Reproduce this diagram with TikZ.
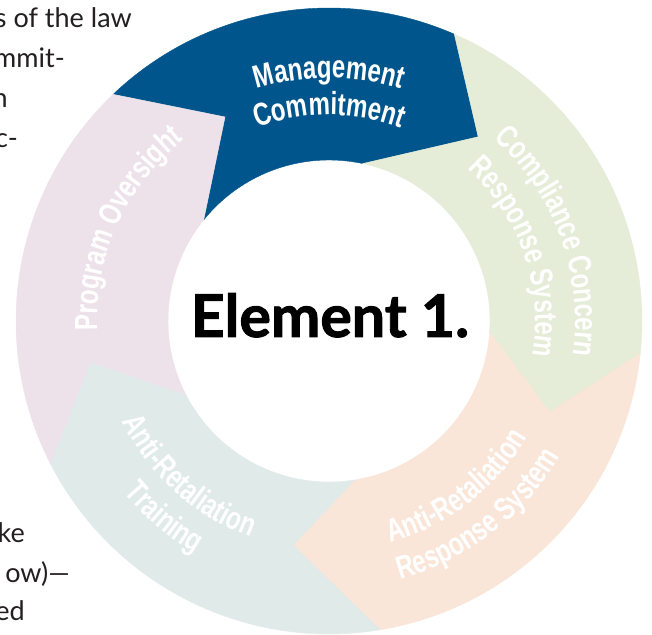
\documentclass[tikz,border=0pt]{standalone}
\usepackage{fontspec}
\setmainfont{Lato}
\newfontfamily\labfont[FakeStretch=0.75]{Liberation Sans}
\newfontfamily\elemfont[BoldFeatures={FakeBold=1.6}]{Lato}
\usetikzlibrary{decorations.text}
\definecolor{segblue}{HTML}{00568C}
\definecolor{seggreen}{HTML}{E5ECD7}
\definecolor{segpeach}{HTML}{FAE6D9}
\definecolor{seggray}{HTML}{E0EAE9}
\definecolor{segpink}{HTML}{EDE2EA}
\definecolor{bodytext}{HTML}{231F20}
\tikzset{
  seg/.style={fill=#1, draw=#1, line width=0.4pt, line join=miter},
  bodyline/.style={anchor=base east, inner sep=0pt, text=bodytext, font=\fontsize{27}{27}\selectfont},
  arclabel/.style={decorate, decoration={text along path, text align=center, text color=white, text={|\labfont\bfseries\fontsize{32}{32}\selectfont|#1}}}
}
\begin{document}
\begin{tikzpicture}[x=1pt,y=1pt]
\useasboundingbox (0,0) rectangle (652,634);
\clip (0,0) rectangle (652,634);
\coordinate (C) at (329,313);
\begin{scope}[shift={(C)}]
% Management Commitment (B5 -> B1)
\path[seg=segblue] (133.6:313) arc[start angle=133.6, end angle=66.4, radius=313]
  -- (51.0:237) -- (77.9:161) arc[start angle=77.9, end angle=141.1, radius=161]
  -- (117.0:229) -- cycle;
% Compliance Concern (B1 -> B2)
\path[seg=seggreen] (66.4:313) arc[start angle=66.4, end angle=-5.9, radius=313]
  -- (-22.4:239) -- (-3.9:161) arc[start angle=-3.9, end angle=77.9, radius=161]
  -- (51.0:237) -- cycle;
% Anti-Retaliation Response System (B2 -> B3)
\path[seg=segpeach] (-5.9:313) arc[start angle=-5.9, end angle=-80.6, radius=313]
  -- (-99.1:227) -- (-80.8:161) arc[start angle=-80.8, end angle=-3.9, radius=161]
  -- (-22.4:239) -- cycle;
% Anti-Retaliation Training (B3 -> B4)
\path[seg=seggray] (-80.6:313) arc[start angle=-80.6, end angle=-152.9, radius=313]
  -- (-170.3:242) -- (-152.8:161) arc[start angle=-152.8, end angle=-80.8, radius=161]
  -- (-99.1:227) -- cycle;
% Program Oversight (B4 -> B5)
\path[seg=segpink] (-152.9:313) arc[start angle=-152.9, end angle=-226.4, radius=313]
  -- (-243.0:229) -- (-218.9:161) arc[start angle=-218.9, end angle=-152.8, radius=161]
  -- (-170.3:242) -- cycle;
% curved labels
\path[arclabel=Management] (150:243) arc[start angle=150, end angle=30, radius=243];
\path[arclabel=Commitment] (150:206) arc[start angle=150, end angle=30, radius=206];
\path[arclabel=Compliance Concern] (80:246) arc[start angle=80, end angle=-40, radius=246];
\path[arclabel=Response System] (79:206) arc[start angle=79, end angle=-41, radius=206];
\path[arclabel=Anti-Retaliation] (-112.5:230) arc[start angle=-112.5, end angle=7.5, radius=230];
\path[arclabel=Response System] (-112.5:268) arc[start angle=-112.5, end angle=7.5, radius=268];
\path[arclabel=Anti-Retaliation] (168:230) arc[start angle=168, end angle=288, radius=230];
\path[arclabel=Training] (170:268) arc[start angle=170, end angle=290, radius=268];
\path[arclabel=Program Oversight] (215.5:232) arc[start angle=215.5, end angle=95.5, radius=232];
\end{scope}
\node[anchor=base, inner sep=0pt, font=\elemfont\bfseries\fontsize{59}{59}\selectfont] (elem) at (330,297) {Element 1.};
% clipped body text at left
\node[bodyline] (t1) at (132,606) {s of the law};
\node[bodyline] (t2) at (65,566) {mmit-};
\node[bodyline] (t3) at (8,526) {n};
\node[bodyline] (t4) at (18,486) {c-};
\node[bodyline] (t5) at (25,92) {ke};
\node[bodyline] (t6) at (70,52) {ow)—};
\node[bodyline] (t7) at (25,14) {ed};
\end{tikzpicture}
\end{document}
